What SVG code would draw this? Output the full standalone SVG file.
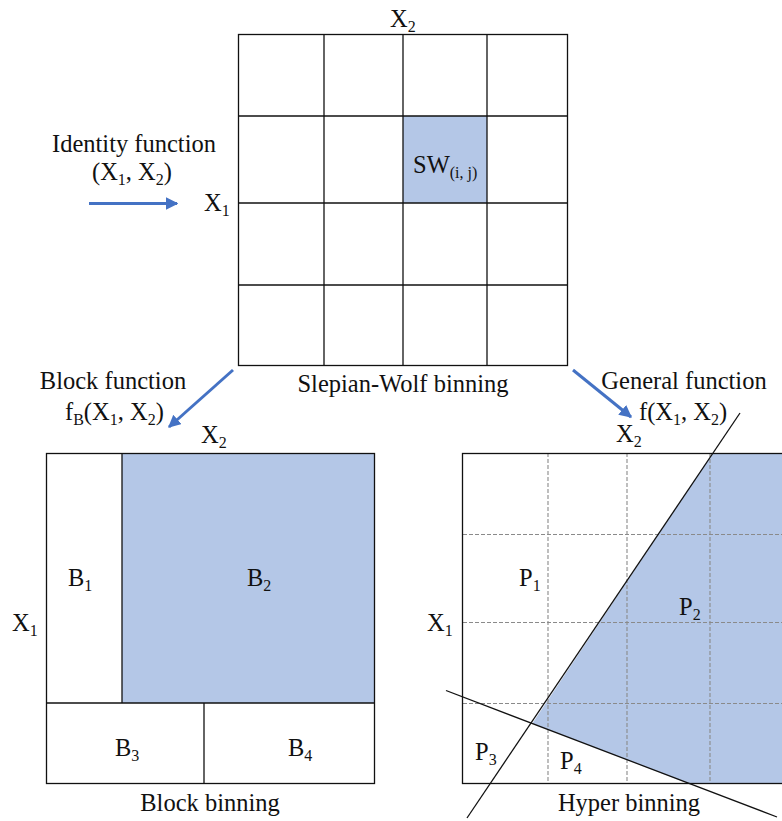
<svg xmlns="http://www.w3.org/2000/svg" width="782" height="821" viewBox="0 0 782 821">
<defs>
<style>
text{font-family:"Liberation Serif","Times New Roman","DejaVu Serif",serif;font-size:24.5px;fill:#111}
.sub{font-size:16px}
.g{fill:none;stroke:#111;stroke-width:1.3}
.dash{fill:none;stroke:#8a8a8a;stroke-width:1.1;stroke-dasharray:4 2}
.fill{fill:#b4c7e7}
.arrow{stroke:#4472c4;stroke-width:3;fill:none}
.cut{stroke:#111;stroke-width:1.3;fill:none}
</style>
<marker id="ah" viewBox="0 0 10 10" refX="9" refY="5" markerWidth="4.2" markerHeight="4.2" orient="auto" markerUnits="strokeWidth">
<path d="M0,0 L10,5 L0,10 z" fill="#4472c4"/>
</marker>
</defs>
<rect width="782" height="821" fill="#fff"/>

<g id="slepian-wolf" font-family="Liberation Serif, serif">
<rect class="fill" x="403" y="116" width="84" height="87"/>
<rect class="g" x="238.5" y="34.5" width="329" height="331"/>
<line class="g" x1="324" y1="34" x2="324" y2="365"/>
<line class="g" x1="403" y1="34" x2="403" y2="365"/>
<line class="g" x1="487" y1="34" x2="487" y2="365"/>
<line class="g" x1="238" y1="116" x2="568" y2="116"/>
<line class="g" x1="238" y1="203" x2="568" y2="203"/>
<line class="g" x1="238" y1="285" x2="568" y2="285"/>
<text x="390" y="27">X<tspan class="sub" dy="5">2</tspan></text>
<text x="204" y="211">X<tspan class="sub" dy="5">1</tspan></text>
<text x="413" y="173">SW<tspan class="sub" dy="5">(i, j)</tspan></text>
<text x="403" y="392" text-anchor="middle">Slepian-Wolf binning</text>
</g>

<g id="block-binning" font-family="Liberation Serif, serif">
<rect class="fill" x="122" y="453" width="253" height="250"/>
<rect class="g" x="46.5" y="453.5" width="328" height="330"/>
<line class="g" x1="122" y1="453" x2="122" y2="703"/>
<line class="g" x1="46" y1="703" x2="375" y2="703"/>
<line class="g" x1="204" y1="703" x2="204" y2="784"/>
<text x="201" y="443">X<tspan class="sub" dy="5">2</tspan></text>
<text x="12" y="631">X<tspan class="sub" dy="5">1</tspan></text>
<text x="68" y="586">B<tspan class="sub" dy="5">1</tspan></text>
<text x="247" y="586">B<tspan class="sub" dy="5">2</tspan></text>
<text x="115" y="756">B<tspan class="sub" dy="5">3</tspan></text>
<text x="288" y="756">B<tspan class="sub" dy="5">4</tspan></text>
<text x="210" y="811" text-anchor="middle">Block binning</text>
</g>

<g id="hyper-binning" font-family="Liberation Serif, serif">
<polygon class="fill" points="712.7,453 532.3,723.4 689.5,784 790,784 790,453"/>
<line class="dash" x1="548" y1="453" x2="548" y2="784"/>
<line class="dash" x1="627" y1="453" x2="627" y2="784"/>
<line class="dash" x1="710" y1="453" x2="710" y2="784"/>
<line class="dash" x1="463" y1="534.5" x2="790" y2="534.5"/>
<line class="dash" x1="463" y1="622.5" x2="790" y2="622.5"/>
<line class="dash" x1="463" y1="703.5" x2="790" y2="703.5"/>
<rect class="g" x="462.5" y="453.5" width="330" height="330"/>
<line class="cut" x1="740" y1="413" x2="467" y2="818"/>
<line class="cut" x1="446" y1="690.5" x2="777" y2="817"/>
<text x="616" y="442">X<tspan class="sub" dy="5">2</tspan></text>
<text x="427" y="631">X<tspan class="sub" dy="5">1</tspan></text>
<text x="519" y="586">P<tspan class="sub" dy="5">1</tspan></text>
<text x="679" y="615">P<tspan class="sub" dy="5">2</tspan></text>
<text x="475" y="760">P<tspan class="sub" dy="5">3</tspan></text>
<text x="560" y="769">P<tspan class="sub" dy="5">4</tspan></text>
<text x="629" y="811" text-anchor="middle">Hyper binning</text>
</g>

<g id="connectors" font-family="Liberation Serif, serif">
<line class="arrow" x1="89" y1="203.5" x2="177" y2="203.5" marker-end="url(#ah)"/>
<line class="arrow" x1="233" y1="370" x2="169" y2="427" marker-end="url(#ah)"/>
<line class="arrow" x1="573" y1="370" x2="631" y2="417" marker-end="url(#ah)"/>
<text x="134" y="152" text-anchor="middle">Identity function</text>
<text x="92" y="180">(X<tspan class="sub" dy="5">1</tspan><tspan dy="-5">, X</tspan><tspan class="sub" dy="5">2</tspan><tspan dy="-5">)</tspan></text>
<text x="113" y="389" text-anchor="middle">Block function</text>
<text x="65" y="420">f<tspan class="sub" dy="5">B</tspan><tspan dy="-5">(X</tspan><tspan class="sub" dy="5">1</tspan><tspan dy="-5">, X</tspan><tspan class="sub" dy="5">2</tspan><tspan dy="-5">)</tspan></text>
<text x="684" y="389" text-anchor="middle">General function</text>
<text x="639" y="420">f(X<tspan class="sub" dy="5">1</tspan><tspan dy="-5">, X</tspan><tspan class="sub" dy="5">2</tspan><tspan dy="-5">)</tspan></text>
</g>
</svg>
